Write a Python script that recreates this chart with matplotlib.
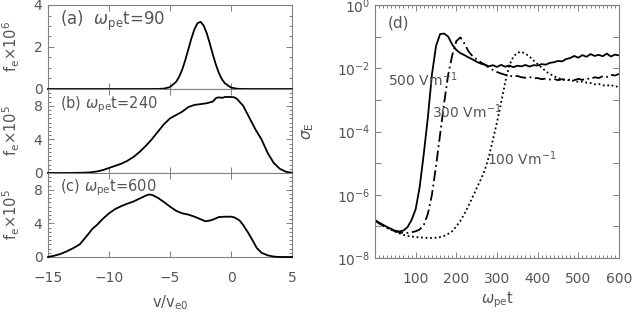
import numpy as np
import matplotlib
matplotlib.use("Agg")
import matplotlib.pyplot as plt
from matplotlib.ticker import MultipleLocator, FixedLocator, FuncFormatter, NullLocator, LogLocator

plt.rcParams['font.family'] = ['DejaVu Sans']
plt.rcParams['mathtext.fontset'] = 'dejavusans'

TXT = '#555555'
SP = '#808080'

# ---------------- data: left panels (f_e vs v/v_e0) ----------------
v_a = [-15, -10, -7, -6, -5.5, -5, -4.5, -4.25, -4, -3.75, -3.5, -3.25, -3, -2.75, -2.5,
       -2.25, -2, -1.75, -1.5, -1.25, -1, -0.75, -0.5, 0, 0.5, 1, 2, 5]
f_a = [0, 0, 0, 0.003, 0.019, 0.092, 0.34, 0.58, 0.92, 1.37, 1.88, 2.40, 2.84, 3.13, 3.20,
       3.03, 2.68, 2.19, 1.67, 1.18, 0.77, 0.47, 0.27, 0.07, 0.013, 0.002, 0, 0]

v_b = [-15, -14, -13, -12, -11.5, -11, -10.5, -10, -9.5, -9, -8.5, -8, -7.5, -7, -6.5, -6,
       -5.5, -5, -4.5, -4, -3.5, -3, -2.5, -2, -1.5, -1.2, -1, -0.7, -0.5, 0, 0.3, 0.5,
       1.0, 1.5, 2.0, 2.5, 3.0, 3.5, 4.0, 4.5, 5.0]
f_b = [0, 0, 0.01, 0.04, 0.08, 0.18, 0.35, 0.6, 0.85, 1.1, 1.45, 1.9, 2.5, 3.2, 4.0, 4.9,
       5.8, 6.5, 6.9, 7.3, 7.85, 8.1, 8.2, 8.3, 8.5, 8.95, 9.0, 8.95, 9.05, 9.05, 9.0, 8.8,
       8.0, 6.6, 5.2, 4.0, 2.4, 1.2, 0.5, 0.15, 0.02]

v_c = [-15, -14.5, -14, -13.5, -13, -12.4, -12, -11.6, -11.4, -11, -10.5, -10, -9.5, -9,
       -8.5, -8, -7.5, -7, -6.7, -6.4, -6, -5.5, -5, -4.5, -4, -3.5, -3, -2.5, -2.1,
       -1.7, -1.4, -1, -0.5, 0, 0.3, 0.7, 1.0, 1.4, 1.8, 2.1, 2.5, 3.0, 3.5, 4.0, 5.0]
f_c = [0, 0.15, 0.35, 0.65, 1.0, 1.5, 2.2, 2.9, 3.3, 3.8, 4.55, 5.2, 5.7, 6.05,
       6.35, 6.6, 6.95, 7.3, 7.45, 7.35, 7.05, 6.55, 6.0, 5.5, 5.2, 5.05, 4.8, 4.5, 4.25,
       4.35, 4.5, 4.75, 4.8, 4.8, 4.7, 4.35, 3.8, 2.9, 1.9, 1.1, 0.5, 0.2, 0.05, 0.0, 0.0]

# ---------------- data: right panel (sigma_E vs omega_pe t) ----------------
t = list(range(0, 610, 10))
s_500 = [1.6e-7, 1.32e-7, 1.12e-7, 9.5e-8, 8.3e-8, 7.2e-8, 6.9e-8, 7.4e-8, 9.5e-8, 1.6e-7,
         3.5e-7, 1.8e-6, 2.0e-5, 2.8e-4, 6.3e-3, 5.0e-2, 1.2e-1, 1.25e-1, 1.0e-1, 5.6e-2,
         3.8e-2, 3.0e-2, 2.6e-2, 2.2e-2, 1.9e-2, 1.6e-2, 1.4e-2, 1.3e-2, 1.15e-2, 1.25e-2,
         1.1e-2, 1.28e-2, 1.12e-2, 1.22e-2, 1.08e-2, 1.2e-2, 1.15e-2, 1.27e-2, 1.13e-2, 1.25e-2,
         1.22e-2, 1.35e-2, 1.3e-2, 1.48e-2, 1.55e-2, 1.7e-2, 1.65e-2, 1.95e-2, 2.1e-2, 2.45e-2,
         2.15e-2, 2.6e-2, 2.3e-2, 2.8e-2, 2.45e-2, 2.65e-2, 2.4e-2, 2.9e-2, 2.35e-2, 2.7e-2,
         2.55e-2]
s_300 = [1.5e-7, 1.25e-7, 1.05e-7, 9.0e-8, 7.8e-8, 7.0e-8, 6.5e-8, 6.2e-8, 6.2e-8, 6.5e-8,
         7.0e-8, 8.0e-8, 1.1e-7, 2.5e-7, 1.0e-6, 8.0e-6, 7.9e-5, 7.9e-4, 6.3e-3, 2.6e-2,
         7.2e-2, 9.5e-2, 6.0e-2, 3.4e-2, 2.4e-2, 1.9e-2, 1.55e-2, 1.3e-2, 1.05e-2, 8.8e-3,
         7.6e-3, 6.8e-3, 6.2e-3, 5.9e-3, 5.4e-3, 5.7e-3, 5.2e-3, 5.0e-3, 5.3e-3, 4.8e-3,
         4.9e-3, 4.5e-3, 4.7e-3, 4.4e-3, 4.6e-3, 4.2e-3, 4.5e-3, 4.1e-3, 4.4e-3, 4.2e-3,
         4.6e-3, 4.3e-3, 4.8e-3, 4.5e-3, 5.2e-3, 4.9e-3, 5.6e-3, 5.3e-3, 6.2e-3, 5.9e-3,
         6.6e-3]
s_100 = [1.5e-7, 1.25e-7, 1.05e-7, 9.0e-8, 7.8e-8, 6.8e-8, 6.0e-8, 5.4e-8, 5.0e-8, 4.8e-8,
         4.6e-8, 4.5e-8, 4.4e-8, 4.3e-8, 4.3e-8, 4.4e-8, 4.6e-8, 5.0e-8, 5.8e-8, 7.0e-8,
         1.0e-7, 1.5e-7, 2.5e-7, 4.5e-7, 8.5e-7, 1.6e-6, 3.0e-6, 6.0e-6, 1.6e-5, 5.5e-5,
         2.0e-4, 8.0e-4, 3.5e-3, 1.2e-2, 2.3e-2, 3.1e-2, 3.3e-2, 2.9e-2, 2.35e-2, 1.75e-2,
         1.35e-2, 1.05e-2, 8.0e-3, 6.6e-3, 5.6e-3, 4.9e-3, 4.5e-3, 4.3e-3, 4.1e-3, 4.0e-3,
         3.7e-3, 3.8e-3, 3.5e-3, 3.4e-3, 3.1e-3, 3.2e-3, 2.9e-3, 2.8e-3, 3.0e-3, 2.6e-3,
         2.7e-3]

W, H = 636, 316
fig = plt.figure(figsize=(W / 100, H / 100), dpi=100)


def fx(px):
    return px / W


def fy(py):
    return 1 - py / H


def style(ax):
    for s in ax.spines.values():
        s.set_color(SP)
        s.set_linewidth(0.8)
    ax.tick_params(which='both', direction='in', top=True, right=True,
                   color=SP, labelcolor=TXT, labelsize=10, width=0.7)
    ax.tick_params(which='major', length=4)
    ax.tick_params(which='minor', length=2)


# left panels
L, R = 48, 292
tops = [5, 89, 173]
bots = [89, 173, 257]
axs = []
for tp, bt in zip(tops, bots):
    ax = fig.add_axes([fx(L), fy(bt), fx(R - L), (bt - tp) / H])
    style(ax)
    ax.set_xlim(-15, 5)
    ax.xaxis.set_major_locator(MultipleLocator(5))
    ax.yaxis.set_minor_locator(MultipleLocator(0.5))
    ax.tick_params(axis='x', pad=10)
    ax.tick_params(axis='y', pad=4)
    axs.append(ax)

ax_a, ax_b, ax_c = axs
ax_a.plot(v_a, f_a, color='black', lw=1.3, clip_on=False, zorder=5)
ax_b.plot(v_b, f_b, color='black', lw=1.3, clip_on=False, zorder=5)
ax_c.plot(v_c, f_c, color='black', lw=1.3, clip_on=False, zorder=5)

ax_a.set_ylim(0, 4)
ax_a.yaxis.set_major_locator(MultipleLocator(2))
for ax in (ax_b, ax_c):
    ax.set_ylim(0, 10)
    ax.yaxis.set_major_locator(FixedLocator([0, 4, 8]))
for ax in (ax_a, ax_b):
    ax.tick_params(axis='x', labelbottom=False)

ax_a.set_ylabel(r'f$_{\rm e}$×10$^{6}$', color=TXT, fontsize=10.5)
ax_b.set_ylabel(r'f$_{\rm e}$×10$^{5}$', color=TXT, fontsize=10.5)
ax_c.set_ylabel(r'f$_{\rm e}$×10$^{5}$', color=TXT, fontsize=10.5)
for ax in axs:
    ax.yaxis.set_label_coords((22 - L) / (R - L), 0.5)
ax_c.set_xlabel(r'v/v$_{\rm e0}$', color=TXT, fontsize=10.5)
ax_c.xaxis.set_label_coords(0.5, (257 - 293) / 84)

ax_a.text(0.049, 0.81, r'(a)  $\omega_{\rm pe}$t=90', transform=ax_a.transAxes,
          color=TXT, fontsize=12, ha='left', va='center')
ax_b.text(0.049, 0.81, r'(b) $\omega_{\rm pe}$t=240', transform=ax_b.transAxes,
          color=TXT, fontsize=10.5, ha='left', va='center')
ax_c.text(0.049, 0.83, r'(c) $\omega_{\rm pe}$t=600', transform=ax_c.transAxes,
          color=TXT, fontsize=10.5, ha='left', va='center')

# right panel
RL, RR, RT, RB = 375, 619, 5, 258
axd = fig.add_axes([fx(RL), fy(RB), fx(RR - RL), (RB - RT) / H])
style(axd)
axd.set_yscale('log')
axd.set_xlim(0, 600)
axd.set_ylim(1e-8, 1e0)
axd.xaxis.set_major_locator(FixedLocator([100, 200, 300, 400, 500, 600]))
axd.xaxis.set_minor_locator(MultipleLocator(10))
axd.yaxis.set_major_locator(LogLocator(base=10, numticks=20))
axd.yaxis.set_minor_locator(NullLocator())


def logfmt(val, pos):
    e = int(round(np.log10(val)))
    return r'$10^{%d}$' % e if e % 2 == 0 else ''


axd.yaxis.set_major_formatter(FuncFormatter(logfmt))
axd.tick_params(axis='x', pad=10)
axd.tick_params(axis='y', pad=3.5)

axd.plot(t, s_500, color='black', lw=1.3, ls='-')
axd.plot(t, s_300, color='black', lw=1.3, ls=(0, (6, 2, 1, 2)))
axd.plot(t, s_100, color='black', lw=1.3, ls=(0, (1, 1.5)))

axd.text(32, 10 ** -0.57, '(d)', color=TXT, fontsize=11, ha='left', va='center')
axd.text(32, 10 ** -2.37, r'500 Vm$^{-1}$', color=TXT, fontsize=10, ha='left', va='center')
axd.text(139, 10 ** -3.38, r'300 Vm$^{-1}$', color=TXT, fontsize=10, ha='left', va='center')
axd.text(275, 10 ** -4.85, r'100 Vm$^{-1}$', color=TXT, fontsize=10, ha='left', va='center')

axd.set_ylabel(r'$\sigma_{\rm E}$', color=TXT, fontsize=11)
axd.yaxis.set_label_coords((316 - RL) / (RR - RL), 0.5)
axd.set_xlabel(r'$\omega_{\rm pe}$t', color=TXT, fontsize=10.5)
axd.xaxis.set_label_coords(0.5, (RB - 289) / (RB - RT))

fig.savefig('out.png', dpi=100)
